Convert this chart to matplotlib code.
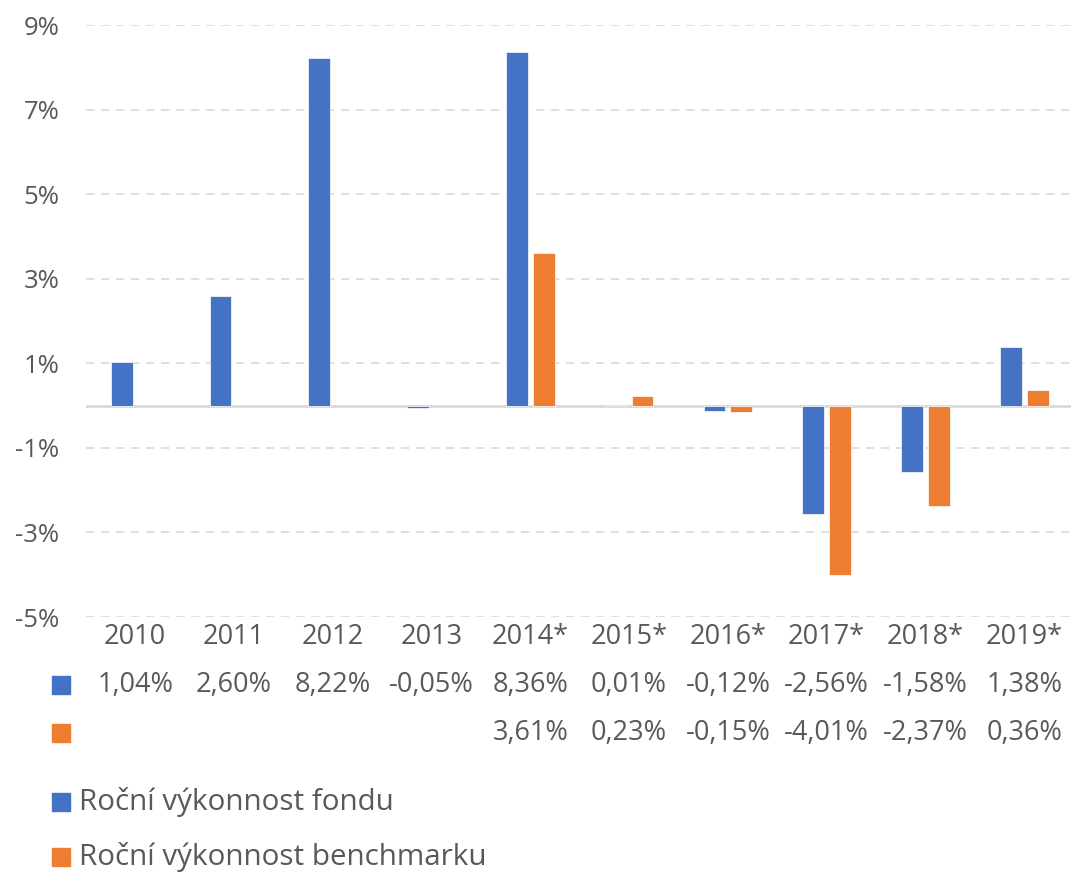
import matplotlib.pyplot as plt
import matplotlib.transforms as mtransforms
from matplotlib.lines import Line2D
import numpy as np

plt.rcParams['font.family'] = ['Open Sans', 'DejaVu Sans']

years = ['2010', '2011', '2012', '2013', '2014*', '2015*', '2016*', '2017*', '2018*', '2019*']
fund = [1.04, 2.60, 8.22, -0.05, 8.36, 0.01, -0.12, -2.56, -1.58, 1.38]
bench = [None, None, None, None, 3.61, 0.23, -0.15, -4.01, -2.37, 0.36]
names = ['Roční výkonnost fondu', 'Roční výkonnost benchmarku']

blue = '#4472C4'
orange = '#ED7D31'
grey = '#595959'


def fmt(v):
    return '' if v is None else ('%.2f%%' % v).replace('.', ',')


fig = plt.figure(figsize=(10.71, 8.72), dpi=100)
ax = fig.add_axes([0.080, 0.2924, 0.9225, 0.6789])

x = np.arange(len(years))
w = 0.22
ax.bar(x - 0.136, fund, w, color=blue, edgecolor='white', linewidth=0.5, zorder=3)
bench_vals = [np.nan if v is None else v for v in bench]
ax.bar(x + 0.136, bench_vals, w, color=orange, edgecolor='white', linewidth=0.5, zorder=3)

ax.set_xlim(-0.5, len(years) - 0.5)
ax.set_ylim(-5, 9)
yt = [-5, -3, -1, 1, 3, 5, 7, 9]
ax.set_yticks(yt)
ax.set_yticklabels(['%d%%' % t for t in yt])
ax.tick_params(axis='y', length=0, pad=19, labelsize=18.5, labelcolor=grey)
ax.set_xticks([])
for t in yt:
    ax.axhline(t, color='#D9D9D9', lw=1.2, ls=(0, (5, 4)), zorder=1)
ax.axhline(0, color='#D9D9D9', lw=2, zorder=2)
for s in ax.spines.values():
    s.set_visible(False)

# data table under the chart
trans = mtransforms.blended_transform_factory(ax.transData, fig.transFigure)
for i, yr in enumerate(years):
    ax.text(i, 0.2695, yr, transform=trans, ha='center', va='center', fontsize=19.5, color=grey)
    ax.text(i, 0.2144, fmt(fund[i]), transform=trans, ha='center', va='center', fontsize=19.5, color=grey)
    ax.text(i, 0.1594, fmt(bench[i]), transform=trans, ha='center', va='center', fontsize=19.5, color=grey)

for yy, c in [(0.2144, blue), (0.1594, orange)]:
    fig.add_artist(Line2D([0.057], [yy], marker='s', markersize=12.5, color=c, transform=fig.transFigure))

# legend
for yy, c, n in [(0.0803, blue, names[0]), (0.0172, orange, names[1])]:
    fig.add_artist(Line2D([0.057], [yy], marker='s', markersize=12.5, color=c, transform=fig.transFigure))
    fig.text(0.074, yy, n, ha='left', va='center', fontsize=21.3, color=grey)

fig.savefig('out.png', dpi=100)
